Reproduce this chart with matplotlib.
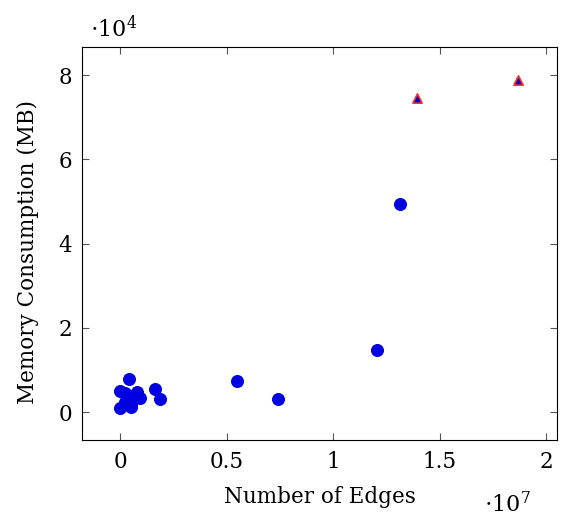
import matplotlib
matplotlib.use("Agg")
import matplotlib.pyplot as plt
from matplotlib.ticker import FuncFormatter, MultipleLocator

# edges (x) and memory in MB (y)
edges_ok = [0.04e7, 0.00e7, 0.02e7, 0.08e7, 0.06e7, 0.09e7, 0.02e7, 0.05e7,
            0.00e7, 0.05e7, 0.03e7, 0.164e7, 0.188e7, 0.548e7, 0.741e7,
            1.205e7, 1.313e7]
mem_ok = [0.78e4, 0.50e4, 0.45e4, 0.47e4, 0.38e4, 0.33e4, 0.25e4, 0.18e4,
          0.10e4, 0.12e4, 0.35e4, 0.55e4, 0.31e4, 0.74e4, 0.31e4,
          1.47e4, 4.93e4]
edges_oom = [1.392e7, 1.866e7]
mem_oom = [7.45e4, 7.88e4]

plt.rcParams["font.family"] = ["DejaVu Serif"]
plt.rcParams["mathtext.fontset"] = "dejavuserif"

fig = plt.figure(figsize=(5.62, 5.19), dpi=100)
ax = fig.add_axes([0.146, 0.152, 0.845, 0.757])

ax.scatter(edges_ok, mem_ok, s=70, color="#0000e0", edgecolors="#0000e0",
           zorder=3)
ax.scatter(edges_oom, mem_oom, s=45, marker="^", color="#0000c0",
           edgecolors="#ff3030", linewidths=1.2, zorder=3)

ax.set_xlim(-0.18e7, 2.05e7)
ax.set_ylim(-0.66e4, 8.66e4)
ax.xaxis.set_major_locator(MultipleLocator(0.5e7))
ax.yaxis.set_major_locator(MultipleLocator(2e4))
ax.xaxis.set_major_formatter(FuncFormatter(lambda v, p: f"{v / 1e7:g}"))
ax.yaxis.set_major_formatter(FuncFormatter(lambda v, p: f"{v / 1e4:g}"))
ax.tick_params(direction="in", top=True, right=True, labelsize=15.5,
               length=5, color="#555555")
ax.tick_params(axis="y", pad=7)
ax.tick_params(axis="x", pad=8)

ax.set_xlabel("Number of Edges", fontsize=15.5)
ax.set_ylabel("Memory Consumption (MB)", fontsize=15.5)
ax.xaxis.set_label_coords(0.5, -0.118)
ax.yaxis.set_label_coords(-0.09, 0.48)

fig.text(0.16, 0.945, r"$\cdot10^4$", fontsize=16, ha="left", va="center")
fig.text(0.862, 0.027, r"$\cdot10^7$", fontsize=16, ha="left", va="center")

fig.savefig("out.png", dpi=100)
